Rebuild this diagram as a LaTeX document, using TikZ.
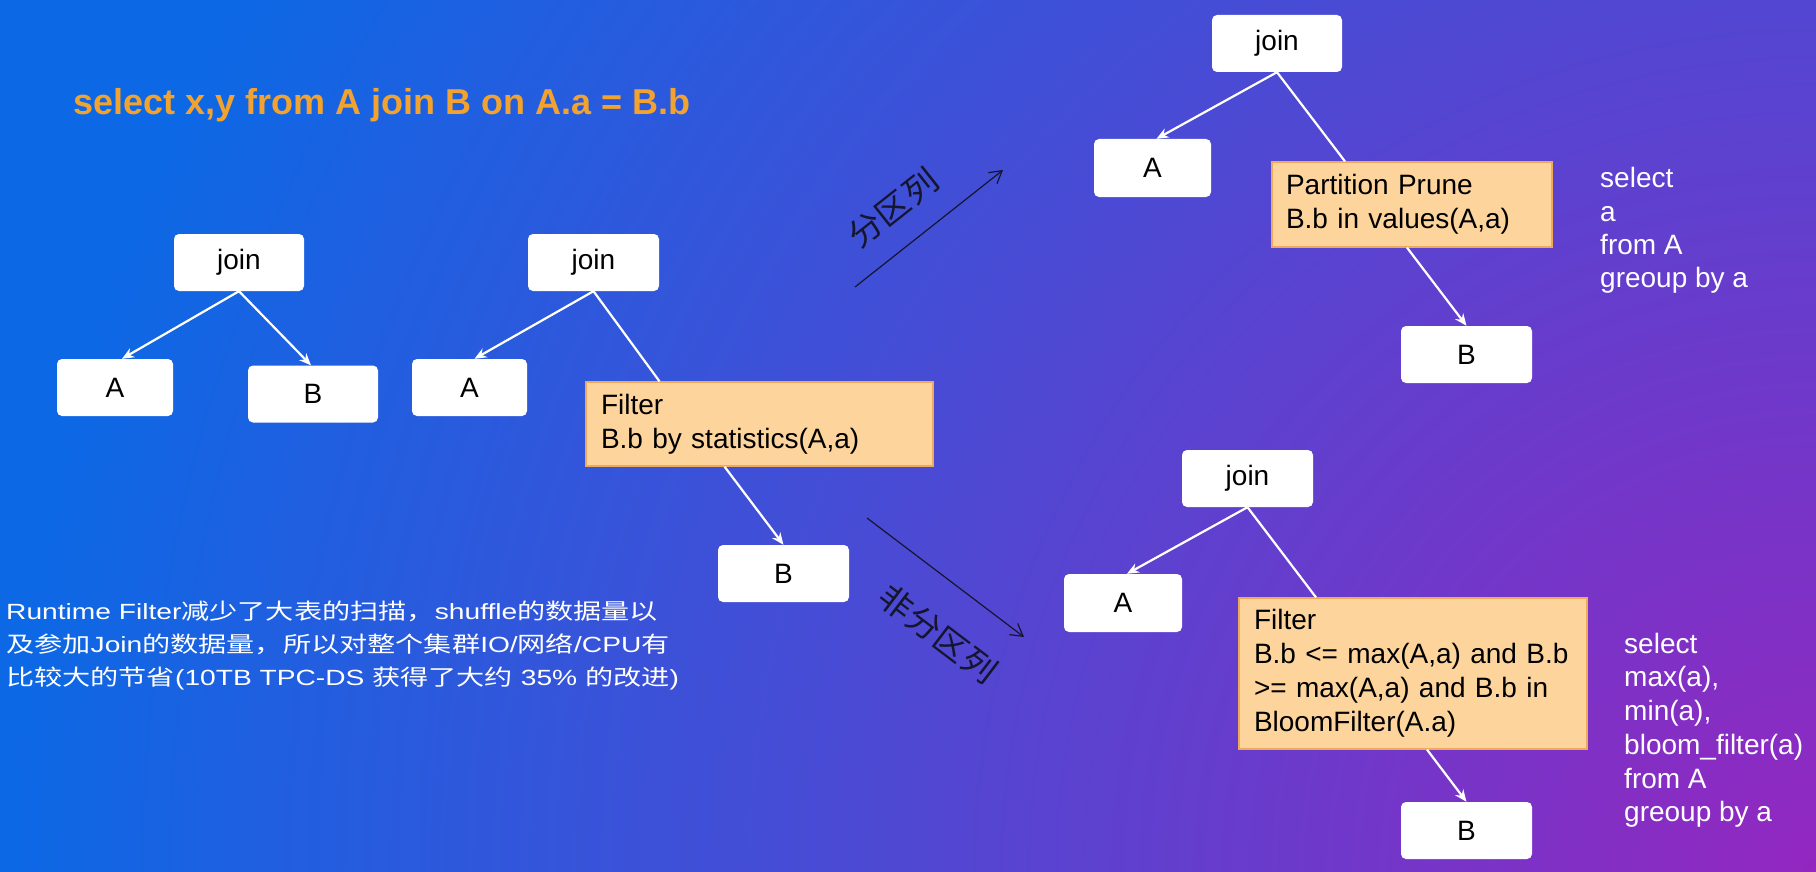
\documentclass[tikz,border=0pt]{standalone}
\usepackage{fontspec}
\setmainfont{Liberation Sans}
\newfontfamily\cjk{Noto Sans CJK SC}
\usetikzlibrary{arrows.meta}
\definecolor{purp}{HTML}{9327C0}
\definecolor{blu}{HTML}{0D68E5}
\definecolor{titleor}{HTML}{F2A22E}
\definecolor{boxfill}{HTML}{FDD49C}
\definecolor{boxline}{HTML}{EFA95A}
\definecolor{darkline}{HTML}{15152E}
\begin{document}
\begin{tikzpicture}[x=1pt,y=-1pt,
 wbox/.style={fill=white, rounded corners=5pt, minimum height=57pt, inner sep=0pt, font=\fontsize{28}{34}\selectfont},
 obox/.style={fill=boxfill, draw=boxline, line width=1.2pt, align=left, inner xsep=15pt, inner ysep=0pt, font=\fontsize{28}{34}\selectfont},
 edge/.style={draw=white, line width=2.2pt, -{Stealth[length=12pt,width=10pt]}},
 plainline/.style={draw=white, line width=2.2pt},
 darr/.style={draw=darkline, line width=1.2pt, -{Straight Barb[length=12pt,width=14pt]}},
 side/.style={text=white, anchor=base west, inner sep=0pt, font=\fontsize{28}{34}\selectfont},
 rt/.style={text=white, anchor=base west, inner sep=0pt, font=\fontsize{22}{26}\selectfont},
 lab/.style={text=darkline, inner sep=0pt, font=\cjk\fontsize{32}{32}\selectfont},
]
\useasboundingbox (0,0) rectangle (1816,872);
\begin{scope}
\clip (0,0) rectangle (1816,872);
\fill[blu] (0,0) rectangle (1816,872);
\shade[inner color=purp, outer color=blu] (1816,872) circle[radius=1800pt];
\end{scope}

\node[anchor=base west, inner sep=0pt, text=titleor, font=\bfseries\fontsize{36}{40}\selectfont] (title) at (73,115) {select x,y from A join B on A.a = B.b};

% left tree
\node[wbox, minimum width=130pt] (join1) at (239,262.5) {join};
\node[wbox, minimum width=116pt] (A1) at (115,387.5) {A};
\node[wbox, minimum width=130pt] (B1) at (313,394) {B};
% middle tree
\node[wbox, minimum width=131pt] (join2) at (593.5,262.5) {join};
\node[wbox, minimum width=115pt] (A2) at (469.5,387.5) {A};
\node[obox, text width=317pt, minimum height=84pt] (F1) at (759.5,424) {Filter\\B.b by statistics(A,a)};
\node[wbox, minimum width=131pt] (B2) at (783.5,573.5) {B};
% top right tree
\node[wbox, minimum width=130pt] (join3) at (1277,43.5) {join};
\node[wbox, minimum width=117pt, minimum height=58pt] (A3) at (1152.5,168) {A};
\node[obox, text width=252pt, inner xsep=14pt, minimum height=85pt] (PP) at (1412,204.5) {Partition Prune\\B.b in values(A,a)};
\node[wbox, minimum width=131pt] (B3) at (1466.5,354.5) {B};
% bottom right tree
\node[wbox, minimum width=131pt] (join4) at (1247.5,478.5) {join};
\node[wbox, minimum width=118pt, minimum height=58pt] (A4) at (1123,603) {A};
\node[obox, text width=318pt, minimum height=151pt] (F2) at (1413,673.5) {Filter\\B.b <= max(A,a) and B.b\\>= max(A,a) and B.b in\\BloomFilter(A.a)};
\node[wbox, minimum width=131pt] (B4) at (1466.5,830.5) {B};

% edges
\draw[edge] (join1.south) -- ([xshift=7pt]A1.north);
\draw[edge] (join1.south) -- ([xshift=-2pt]B1.north);
\draw[edge] (join2.south) -- ([xshift=5pt]A2.north);
\draw[plainline] (join2.south) -- ([xshift=-100pt]F1.north);
\draw[edge] ([xshift=-35pt]F1.south) -- (B2.north);
\draw[edge] (join3.south) -- ([xshift=4pt]A3.north);
\draw[plainline] (join3.south) -- ([xshift=-67pt]PP.north);
\draw[edge] ([xshift=-5pt]PP.south) -- (B3.north);
\draw[edge] (join4.south) -- ([xshift=4pt]A4.north);
\draw[plainline] (join4.south) -- ([xshift=-97pt]F2.north);
\draw[edge] ([xshift=14pt]F2.south) -- (B4.north);

% black arrows
\coordinate (p1s) at (855,287);
\coordinate (p1e) at (1003,170);
\draw[darr] (p1s) -- (p1e);
\node[lab, rotate=38.3] (lab1) at (893,208) {\scalebox{1.08}[1]{分区列}};
\coordinate (p2s) at (867,518);
\coordinate (p2e) at (1024,637);
\draw[darr] (p2s) -- (p2e);
\node[lab, rotate=-37.2] (lab2) at (938,634) {\scalebox{1.08}[1]{非分区列}};

% side texts
\node[side] (sa1) at (1600,188) {select};
\node[side] (sa2) at (1600,221) {a};
\node[side] (sa3) at (1600,254) {from A};
\node[side] (sa4) at (1600,287) {greoup by a};
\node[side] (sb1) at (1624,653) {select};
\node[side] (sb2) at (1624,686) {max(a),};
\node[side] (sb3) at (1624,720) {min(a),};
\node[side] (sb4) at (1624,754) {bloom\_filter(a)};
\node[side] (sb5) at (1624,788) {from A};
\node[side] (sb6) at (1624,821) {greoup by a};

% runtime text
\node[rt] (r1) at (6,619) {\scalebox{1.28}[1]{Runtime Filter{\cjk 减少了大表的扫描，}shuffle{\cjk 的数据量以}}};
\node[rt] (r2) at (6,652) {\scalebox{1.28}[1]{{\cjk 及参加}Join{\cjk 的数据量，所以对整个集群}IO/{\cjk 网络}/CPU{\cjk 有}}};
\node[rt] (r3) at (6,685) {\scalebox{1.28}[1]{{\cjk 比较大的节省}(10TB TPC-DS {\cjk 获得了大约} 35\% {\cjk 的改进})}};
\end{tikzpicture}
\end{document}
